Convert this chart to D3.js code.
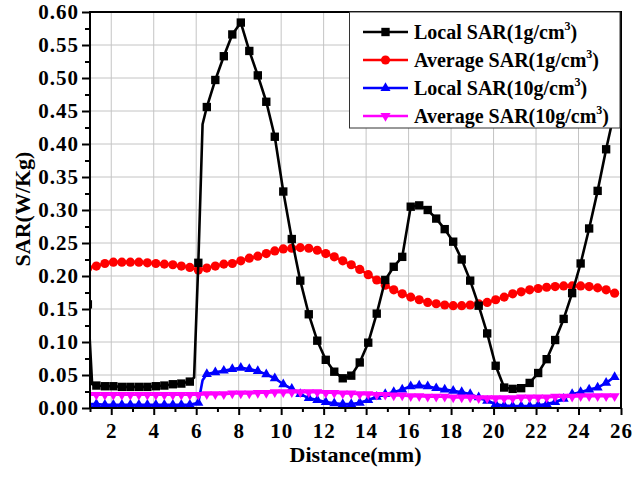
<!DOCTYPE html>
<html>
<head>
<meta charset="utf-8">
<script src="https://cdn.jsdelivr.net/npm/d3@7"></script>
<style>
  body { margin: 0; background: #fff; }
  text { font-family: "Liberation Serif", "Times New Roman", serif; font-weight: bold; fill: #000; }
</style>
</head>
<body>
<div id="container"></div>
<script>
/* CONSTANTS AND GLOBALS */
const width = 632,
  height = 478,
  margin = { top: 12, bottom: 70, left: 90, right: 11 };

/* DATA */
const distance = [0.9, 1.3, 1.7, 2.1, 2.5, 2.9, 3.3, 3.7, 4.1, 4.5, 4.9, 5.3, 5.7,
  6.1, 6.5, 6.9, 7.3, 7.7, 8.1, 8.5, 8.9, 9.3, 9.7,
  10.1, 10.5, 10.9, 11.3, 11.7, 12.1, 12.5, 12.9, 13.3, 13.7,
  14.1, 14.5, 14.9, 15.3, 15.7, 16.1, 16.5, 16.9, 17.3, 17.7,
  18.1, 18.5, 18.9, 19.3, 19.7, 20.1, 20.5, 20.9, 21.3, 21.7,
  22.1, 22.5, 22.9, 23.3, 23.7, 24.1, 24.5, 24.9, 25.3, 25.7];

const localSar1g = [0.157, 0.034, 0.033, 0.033, 0.032, 0.032, 0.032, 0.032, 0.033, 0.034, 0.036, 0.037, 0.040,
  0.220, 0.456, 0.497, 0.533, 0.566, 0.584, 0.541, 0.504, 0.464, 0.411,
  0.328, 0.256, 0.193, 0.142, 0.102, 0.073, 0.055, 0.045, 0.049, 0.069,
  0.099, 0.143, 0.194, 0.214, 0.229, 0.305, 0.307, 0.300, 0.287, 0.271,
  0.252, 0.225, 0.193, 0.155, 0.113, 0.064, 0.031, 0.029, 0.030, 0.038,
  0.053, 0.074, 0.103, 0.135, 0.174, 0.219, 0.272, 0.329, 0.392, 0.450];

const avgSar1g = [0.212, 0.215, 0.219, 0.221, 0.221, 0.221, 0.221, 0.220, 0.219, 0.218, 0.217, 0.215, 0.213,
  0.209, 0.212, 0.215, 0.218, 0.219, 0.223, 0.227, 0.230, 0.234, 0.238,
  0.241, 0.242, 0.243, 0.242, 0.239, 0.234, 0.229, 0.223, 0.217, 0.210,
  0.202, 0.194, 0.186, 0.179, 0.173, 0.168, 0.164, 0.160, 0.158, 0.156,
  0.155, 0.155, 0.156, 0.158, 0.160, 0.164, 0.168, 0.173, 0.176, 0.179,
  0.181, 0.183, 0.184, 0.185, 0.185, 0.185, 0.184, 0.182, 0.179, 0.174];

const localSar10g = [0.006, 0.006, 0.005, 0.005, 0.005, 0.005, 0.005, 0.005, 0.005, 0.005, 0.005, 0.005, 0.005,
  0.008, 0.0515, 0.054, 0.0565, 0.059, 0.061, 0.059, 0.056, 0.051, 0.045,
  0.036, 0.029, 0.021, 0.015, 0.012, 0.009, 0.007, 0.006, 0.006, 0.008,
  0.012, 0.017, 0.021, 0.024, 0.028, 0.033, 0.034, 0.033, 0.030, 0.028,
  0.026, 0.024, 0.021, 0.016, 0.011, 0.006, 0.0035, 0.003, 0.003, 0.003,
  0.004, 0.006, 0.009, 0.014, 0.021, 0.024, 0.028, 0.031, 0.038, 0.047];

const avgSar10g = [0.020, 0.020, 0.020, 0.020, 0.020, 0.020, 0.020, 0.020, 0.020, 0.020, 0.020, 0.020, 0.020,
  0.020, 0.021, 0.021, 0.021, 0.022, 0.022, 0.022, 0.023, 0.023, 0.024,
  0.024, 0.024, 0.024, 0.024, 0.024, 0.023, 0.023, 0.022, 0.022, 0.021,
  0.021, 0.020, 0.020, 0.019, 0.019, 0.018, 0.018, 0.017, 0.017, 0.017,
  0.016, 0.016, 0.016, 0.015, 0.015, 0.015, 0.015, 0.015, 0.016, 0.016,
  0.016, 0.016, 0.017, 0.017, 0.017, 0.018, 0.018, 0.018, 0.018, 0.018];

// extra curve points between markers (line only)
const localSar1gDetailX = [1.1, 5.9, 6.3];
const localSar1gDetailY = [0.036, 0.046, 0.430];
const localSar10gDetailX = [6.3];
const localSar10gDetailY = [0.042];

const xTicks = [2, 4, 6, 8, 10, 12, 14, 16, 18, 20, 22, 24, 26];
const yTicks = [0, 0.05, 0.1, 0.15, 0.2, 0.25, 0.3, 0.35, 0.4, 0.45, 0.5, 0.55, 0.6];

const seriesNames = ["Local SAR(1g/cm", "Average SAR(1g/cm", "Local SAR(10g/cm", "Average SAR(10g/cm"];

const series = [
  { name: seriesNames[1], values: avgSar1g, color: "#ff0000", symbol: d3.symbolCircle, size: 66, rot: 0 },
  { name: seriesNames[2], values: localSar10g, color: "#0000ff", symbol: d3.symbolTriangle, size: 44, rot: 0,
    detailX: localSar10gDetailX, detailY: localSar10gDetailY },
  { name: seriesNames[3], values: avgSar10g, color: "#ff00ff", symbol: d3.symbolTriangle, size: 44, rot: 180 },
  { name: seriesNames[0], values: localSar1g, color: "#000000", symbol: d3.symbolSquare, size: 70, rot: 0,
    detailX: localSar1gDetailX, detailY: localSar1gDetailY }
];
const legendOrder = [3, 0, 1, 2];

// SCALES
const xScale = d3.scaleLinear()
  .domain([1, 26])
  .range([margin.left, width - margin.right]);

const yScale = d3.scaleLinear()
  .domain([0, 0.6])
  .range([height - margin.bottom, margin.top]);

// CREATE SVG ELEMENT
const svg = d3.select("#container")
  .append("svg")
  .attr("width", width)
  .attr("height", height);

svg.append("clipPath")
  .attr("id", "plotClip")
  .append("rect")
  .attr("x", margin.left)
  .attr("y", margin.top)
  .attr("width", width - margin.right - margin.left)
  .attr("height", height - margin.bottom - margin.top);

// GRID
svg.append("g")
  .attr("class", "xGrid")
  .selectAll("line")
  .data(xTicks)
  .join("line")
  .attr("x1", d => xScale(d)).attr("x2", d => xScale(d))
  .attr("y1", yScale(0)).attr("y2", yScale(0.6))
  .attr("stroke", "#c4c4c4")
  .attr("stroke-width", 1);

svg.append("g")
  .attr("class", "yGrid")
  .selectAll("line")
  .data(yTicks)
  .join("line")
  .attr("x1", xScale(1)).attr("x2", xScale(26))
  .attr("y1", d => yScale(d)).attr("y2", d => yScale(d))
  .attr("stroke", "#c4c4c4")
  .attr("stroke-width", 1);

// AXES
const xAxis = d3.axisBottom(xScale)
  .tickValues(xTicks)
  .tickSize(7)
  .tickSizeOuter(0)
  .tickPadding(8)
  .tickFormat(d3.format("d"));

const xAxisGroup = svg.append("g")
  .attr("class", "xAxis")
  .attr("transform", `translate(0, ${height - margin.bottom})`)
  .call(xAxis);

const xMinor = d3.axisBottom(xScale)
  .tickValues(d3.range(1, 27, 2))
  .tickSize(4)
  .tickSizeOuter(0)
  .tickFormat("");

svg.append("g")
  .attr("class", "xMinor")
  .attr("transform", `translate(0, ${height - margin.bottom})`)
  .call(xMinor);

const yAxis = d3.axisLeft(yScale)
  .tickValues(yTicks)
  .tickSize(8)
  .tickSizeOuter(0)
  .tickPadding(3)
  .tickFormat(d3.format(".2f"));

const yAxisGroup = svg.append("g")
  .attr("class", "yAxis")
  .attr("transform", `translate(${margin.left}, 0)`)
  .call(yAxis);

const yMinor = d3.axisLeft(yScale)
  .tickValues(d3.range(0.025, 0.6, 0.05))
  .tickSize(5)
  .tickSizeOuter(0)
  .tickFormat("");

svg.append("g")
  .attr("class", "yMinor")
  .attr("transform", `translate(${margin.left}, 0)`)
  .call(yMinor);

svg.selectAll(".xAxis text, .yAxis text")
  .attr("font-size", 21)
  .attr("letter-spacing", 1)
  .attr("font-family", "Liberation Serif, serif")
  .attr("font-weight", "bold");
svg.selectAll(".xAxis .tick line, .yAxis .tick line, .xMinor .tick line, .yMinor .tick line")
  .attr("stroke", "#000")
  .attr("stroke-width", 2);
svg.selectAll(".domain").remove();

// axis titles
svg.append("text")
  .attr("class", "xLabel")
  .attr("x", (margin.left + width - margin.right) / 2)
  .attr("y", 462)
  .attr("text-anchor", "middle")
  .attr("font-size", 22)
  .text("Distance(mm)");

svg.append("text")
  .attr("class", "yLabel")
  .attr("transform", `translate(${30}, ${209}) rotate(-90)`)
  .attr("text-anchor", "middle")
  .attr("font-size", 22)
  .text("SAR(W/Kg)");

// LINE GENERATOR FUNCTION
const lineGen = d3.line()
  .x(d => xScale(d[0]))
  .y(d => yScale(d[1]));

const plot = svg.append("g").attr("clip-path", "url(#plotClip)");

series.forEach(s => {
  const pts = distance.map((x, i) => [x, s.values[i]]);
  let linePts = pts;
  if (s.detailX) {
    linePts = pts.concat(s.detailX.map((x, i) => [x, s.detailY[i]]))
      .sort((a, b) => a[0] - b[0]);
  }
  plot.append("path")
    .attr("fill", "none")
    .attr("stroke", s.color)
    .attr("stroke-width", 2.6)
    .attr("stroke-linejoin", "round")
    .attr("d", lineGen(linePts));

  plot.selectAll(null)
    .data(pts)
    .join("path")
    .attr("fill", s.color)
    .attr("transform", d => `translate(${xScale(d[0])}, ${yScale(d[1])}) rotate(${s.rot})`)
    .attr("d", d3.symbol().type(s.symbol).size(s.size)());
});

// FRAME
svg.append("rect")
  .attr("x", margin.left)
  .attr("y", margin.top)
  .attr("width", width - margin.right - margin.left)
  .attr("height", height - margin.bottom - margin.top)
  .attr("fill", "none")
  .attr("stroke", "#000")
  .attr("stroke-width", 2);

// LEGEND
const legend = svg.append("g").attr("class", "legend");
legend.append("rect")
  .attr("x", 349.5)
  .attr("y", 12)
  .attr("width", 270.5)
  .attr("height", 116)
  .attr("fill", "#fff")
  .attr("stroke", "#333")
  .attr("stroke-width", 1);

const rowY = d3.scalePoint().domain(legendOrder).range([32, 116]);

legendOrder.forEach(k => {
  const s = series[k];
  const gy = rowY(k);
  const g = legend.append("g").attr("transform", `translate(0, ${gy})`);
  g.append("line")
    .attr("x1", 363).attr("x2", 408)
    .attr("stroke", s.color)
    .attr("stroke-width", 2.6);
  g.append("path")
    .attr("transform", `translate(385.5, 0) rotate(${s.rot})`)
    .attr("fill", s.color)
    .attr("d", d3.symbol().type(s.symbol).size(s.size)());
  const t = g.append("text")
    .attr("x", 414)
    .attr("y", 7)
    .attr("font-size", 20);
  t.append("tspan").text(s.name);
  t.append("tspan").attr("font-size", 12).attr("dy", -9).text("3");
  t.append("tspan").attr("dy", 9).text(")");
});
</script>
</body>
</html>
